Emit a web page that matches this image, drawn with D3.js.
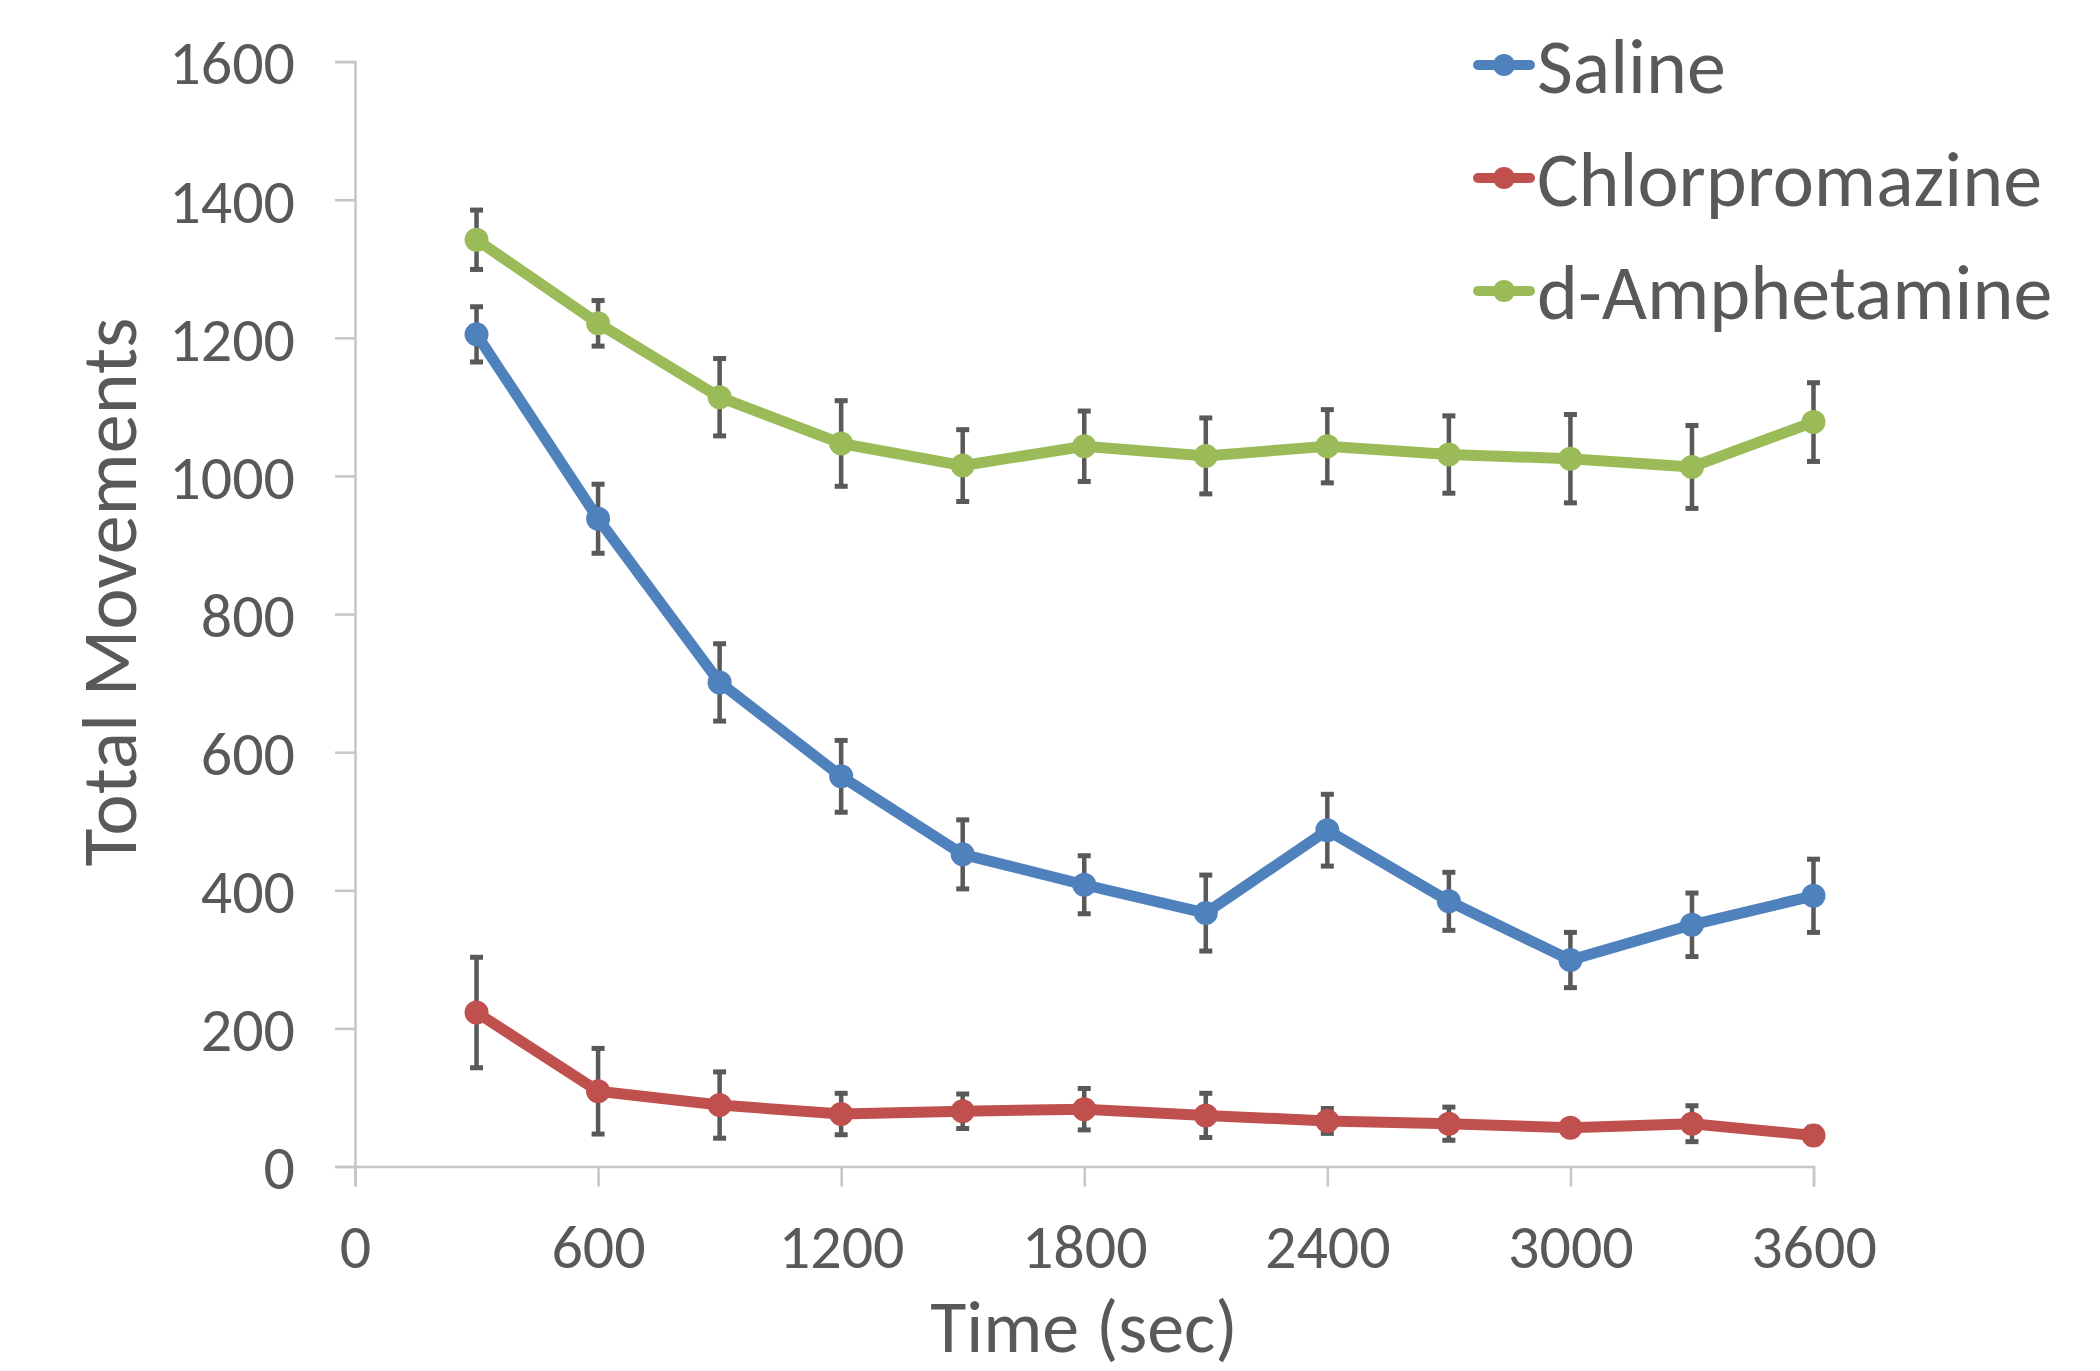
<!DOCTYPE html>
<html>
<head>
<meta charset="utf-8">
<script src="https://cdn.jsdelivr.net/npm/d3@7"></script>
<style>
html,body{margin:0;padding:0;background:#fff;}
svg{display:block;}
</style>
</head>
<body>
<svg id="chart" width="2100" height="1371"></svg>
<script>
const times = [300,600,900,1200,1500,1800,2100,2400,2700,3000,3300,3600];
const seriesNames = ["Saline","Chlorpromazine","d-Amphetamine"];
const seriesColors = ["#4F81BD","#C0504D","#9BBB59"];
const salineValues = [1205,938,701,565,452,408,367,487,384,299,350,392];
const salineErrors = [40,50,56,52,50,42,55,52,42,40,46,53];
const chlorValues = [223,109,89,76,80,83,74,66,62,56,62,45];
const chlorErrors = [80,62,48,30,25,30,32,18,24,8,26,12];
const amphValues = [1342,1221,1114,1047,1015,1043,1029,1043,1031,1025,1013,1078];
const amphErrors = [43,33,56,62,52,51,55,53,56,64,60,57];
const xTicks = [0,600,1200,1800,2400,3000,3600];
const yTicks = [0,200,400,600,800,1000,1200,1400,1600];
const xTitle = "Time (sec)";
const yTitle = "Total Movements";

const series = [
  {name: seriesNames[0], color: seriesColors[0], values: salineValues, errors: salineErrors},
  {name: seriesNames[1], color: seriesColors[1], values: chlorValues, errors: chlorErrors},
  {name: seriesNames[2], color: seriesColors[2], values: amphValues, errors: amphErrors}
];

const FONT = "Carlito, Lato, 'Open Sans', sans-serif";
const TXT = "#595959";
const svg = d3.select("#chart");

const x = d3.scaleLinear().domain([0,3600]).range([355,1813.5]);
const y = d3.scaleLinear().domain([0,1600]).range([1166.5,61.6]);

// axes
const gx = svg.append("g").attr("transform",`translate(0,${y(0)})`)
  .call(d3.axisBottom(x).tickValues(xTicks).tickSize(20).tickPadding(37).tickFormat(d3.format("d")));
const gy = svg.append("g").attr("transform",`translate(${x(0)},0)`)
  .call(d3.axisLeft(y).tickValues(yTicks).tickSize(20).tickPadding(40).tickFormat(d3.format("d")));
[gx,gy].forEach(g=>{
  g.select(".domain").attr("stroke","#c6c6c6").attr("stroke-width",2.5);
  g.selectAll(".tick line").attr("stroke","#c6c6c6").attr("stroke-width",2.5);
  g.selectAll(".tick text").attr("fill",TXT).style("font-family",FONT).style("font-size","62px");
});
gx.selectAll(".tick text").attr("dy","0.71em");
gy.selectAll(".tick text").attr("dy","0.36em");

// axis titles
svg.append("text").attr("x",1084).attr("y",1352).attr("text-anchor","middle")
  .attr("fill",TXT).style("font-family",FONT).style("font-size","74px").text(xTitle);
svg.append("text").attr("transform","translate(136,592) rotate(-90)").attr("text-anchor","middle")
  .attr("fill",TXT).style("font-family",FONT).style("font-size","78px").text(yTitle);

const line = d3.line().x((d,i)=>x(times[i])).y(d=>y(d));

series.forEach(s=>{
  const g = svg.append("g");
  // error bars
  const eb = g.append("g").attr("stroke","#595959").attr("stroke-width",4.5).attr("fill","none");
  s.values.forEach((v,i)=>{
    const cx = x(times[i]);
    const lo = y(v - s.errors[i]), hi = y(v + s.errors[i]);
    eb.append("line").attr("x1",cx).attr("x2",cx).attr("y1",lo).attr("y2",hi);
    eb.append("line").attr("x1",cx-6.5).attr("x2",cx+6.5).attr("y1",lo).attr("y2",lo).attr("stroke-width",5);
    eb.append("line").attr("x1",cx-6.5).attr("x2",cx+6.5).attr("y1",hi).attr("y2",hi).attr("stroke-width",5);
  });
  g.append("path").datum(s.values).attr("d",line).attr("fill","none")
    .attr("stroke",s.color).attr("stroke-width",11).attr("stroke-linejoin","round").attr("stroke-linecap","round");
  g.selectAll("circle").data(s.values).join("circle")
    .attr("cx",(d,i)=>x(times[i])).attr("cy",d=>y(d)).attr("r",12).attr("fill",s.color);
});

// legend
const legendY = [65,178,291];
series.forEach((s,i)=>{
  const g = svg.append("g").attr("transform",`translate(0,${legendY[i]})`);
  g.append("line").attr("x1",1478).attr("x2",1530).attr("y1",0).attr("y2",0)
    .attr("stroke",s.color).attr("stroke-width",10).attr("stroke-linecap","round");
  g.append("circle").attr("cx",1504).attr("cy",0).attr("r",11).attr("fill",s.color);
  g.append("text").attr("x",1537).attr("y",0).attr("dy","0.36em")
    .attr("fill",TXT).style("font-family",FONT).style("font-size","78px").text(s.name);
});
</script>
</body>
</html>
